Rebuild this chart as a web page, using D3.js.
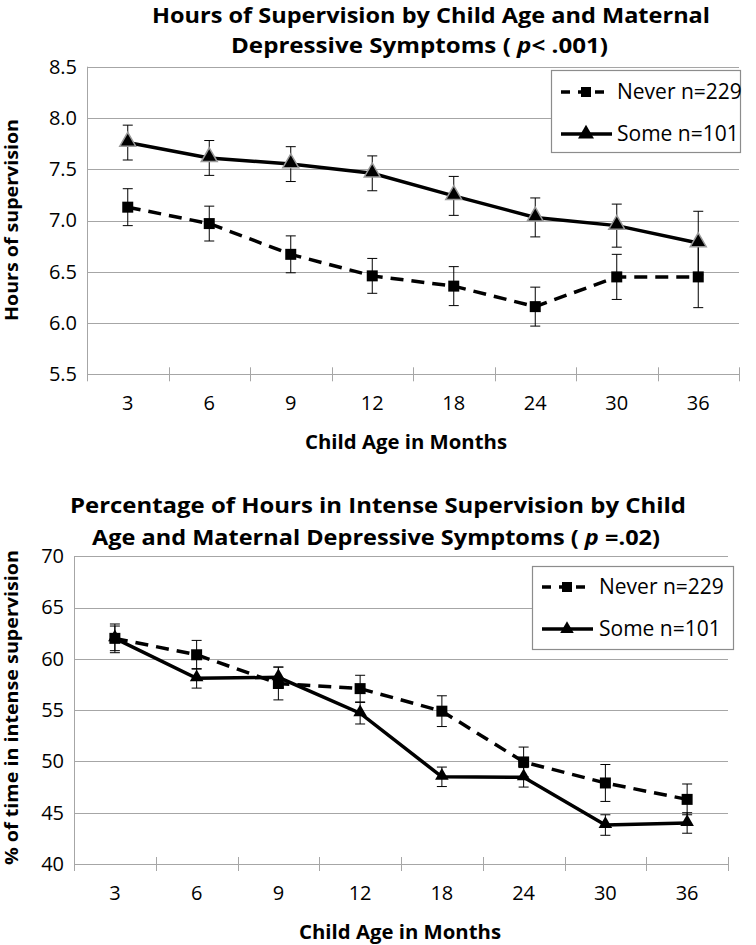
<!DOCTYPE html>
<html>
<head>
<meta charset="utf-8">
<script src="https://cdn.jsdelivr.net/npm/d3@7"></script>
<style>
  body { margin: 0; background: #fff; }
  text { font-family: "Open Sans", "Noto Sans", sans-serif; fill: #000; }
</style>
</head>
<body>
<div id="chart"></div>
<script>
// child age categories (months)
var ages = ["3", "6", "9", "12", "18", "24", "30", "36"];

// hours of supervision
var hoursNever = [7.13, 6.97, 6.67, 6.46, 6.36, 6.16, 6.45, 6.45];
var hoursNeverErr = [0.18, 0.17, 0.18, 0.17, 0.19, 0.19, 0.22, 0.30];
var hoursSome = [7.76, 7.61, 7.55, 7.46, 7.24, 7.03, 6.95, 6.78];
var hoursSomeErr = [0.17, 0.17, 0.17, 0.17, 0.19, 0.19, 0.21, 0.31];
var hoursTicks = [5.5, 6.0, 6.5, 7.0, 7.5, 8.0, 8.5];

// % of time in intense supervision
var pctNever = [62.0, 60.4, 57.6, 57.1, 54.9, 49.95, 47.9, 46.3];
var pctNeverErr = [1.4, 1.4, 1.6, 1.3, 1.5, 1.45, 1.8, 1.5];
var pctSome = [62.0, 58.1, 58.2, 54.7, 48.5, 48.45, 43.8, 44.0];
var pctSomeErr = [1.2, 0.95, 1.0, 1.05, 0.95, 0.95, 1.0, 1.0];
var pctTicks = [40, 45, 50, 55, 60, 65, 70];

var legendNames = ["Never n=229", "Some n=101"];

var svg = d3.select("#chart").append("svg")
    .attr("width", 756)
    .attr("height", 945);

var gridColor = "#a6a6a6";

function drawChart(c) {
    var g = svg.append("g");

    var x = d3.scaleBand().domain(ages).range([c.left, c.right]).padding(0);
    var y = d3.scaleLinear().domain(c.domain).range([c.bottom, c.top]);
    var cx = function(d) { return x(d) + x.bandwidth() / 2; };

    // title lines
    c.title.forEach(function(t) {
        var txt = g.append("text")
            .attr("x", t.x).attr("y", t.y)
            .attr("font-size", 21).attr("font-weight", "bold")
            .attr("textLength", t.w).attr("lengthAdjust", "spacingAndGlyphs");
        t.parts.forEach(function(p) {
            txt.append("tspan").text(p.s).attr("font-style", p.i ? "italic" : null);
        });
    });

    // gridlines
    g.append("g").selectAll("line")
        .data(c.ticks)
        .enter().append("line")
        .attr("x1", c.left).attr("x2", c.right)
        .attr("y1", function(d) { return Math.round(y(d)) + 0.5; })
        .attr("y2", function(d) { return Math.round(y(d)) + 0.5; })
        .attr("stroke", gridColor).attr("stroke-width", 1);

    // y axis line
    g.append("line")
        .attr("x1", c.left + 0.5).attr("x2", c.left + 0.5)
        .attr("y1", y(c.domain[1])).attr("y2", y(c.domain[0]) + 7)
        .attr("stroke", gridColor);

    // y labels via axis
    var yAxis = d3.axisLeft(y).tickValues(c.ticks).tickSize(0).tickPadding(10)
        .tickFormat(c.fmt);
    var ya = g.append("g").attr("transform", "translate(" + c.left + ",0)").call(yAxis);
    ya.select(".domain").remove();
    ya.selectAll("text").attr("font-size", 20).attr("font-family", null).attr("fill", "#000");

    // x ticks at band edges (crossing the axis)
    var edges = ages.map(function(d) { return x(d); }).concat([c.right]);
    g.append("g").selectAll("line")
        .data(edges.slice(1))
        .enter().append("line")
        .attr("x1", function(d) { return Math.round(d) + 0.5; })
        .attr("x2", function(d) { return Math.round(d) + 0.5; })
        .attr("y1", y(c.domain[0]) - 7).attr("y2", y(c.domain[0]) + 7)
        .attr("stroke", gridColor);

    var xAxis = d3.axisBottom(x).tickSize(0).tickPadding(22);
    var xa = g.append("g").attr("transform", "translate(0," + y(c.domain[0]) + ")").call(xAxis);
    xa.select(".domain").remove();
    xa.selectAll("text").attr("font-size", 20).attr("font-family", null).attr("fill", "#000");

    // axis titles
    g.append("text")
        .attr("x", c.xTitle.x).attr("y", c.xTitle.y)
        .attr("font-size", 20).attr("font-weight", "bold")
        .attr("textLength", c.xTitle.w).attr("lengthAdjust", "spacingAndGlyphs")
        .text("Child Age in Months");

    g.append("text")
        .attr("transform", "translate(" + c.yTitle.x + "," + c.yTitle.y + ") rotate(-90)")
        .attr("font-size", 17).attr("font-weight", "bold")
        .attr("textLength", c.yTitle.w).attr("lengthAdjust", "spacingAndGlyphs")
        .text(c.yTitle.text);

    var series = [
        { vals: c.never, err: c.neverErr, dash: "13,8", mark: "square" },
        { vals: c.some, err: c.someErr, dash: null, mark: "triangle" }
    ];

    var line = d3.line()
        .x(function(d, i) { return cx(ages[i]); })
        .y(function(d) { return y(d); });

    series.forEach(function(s) {
        g.append("path")
            .datum(s.vals)
            .attr("d", line)
            .attr("fill", "none")
            .attr("stroke", "#000")
            .attr("stroke-width", 3.5)
            .attr("stroke-dasharray", s.dash);
    });

    series.forEach(function(s) {
        // error bars
        var eb = g.append("g").selectAll("g")
            .data(s.vals)
            .enter().append("g");
        eb.append("line")
            .attr("x1", function(d, i) { return cx(ages[i]); })
            .attr("x2", function(d, i) { return cx(ages[i]); })
            .attr("y1", function(d, i) { return y(d + s.err[i]); })
            .attr("y2", function(d, i) { return y(d - s.err[i]); })
            .attr("stroke", "#000").attr("stroke-width", 1);
        [1, -1].forEach(function(sign) {
            eb.append("line")
                .attr("x1", function(d, i) { return cx(ages[i]) - 5; })
                .attr("x2", function(d, i) { return cx(ages[i]) + 5; })
                .attr("y1", function(d, i) { return y(d + sign * s.err[i]); })
                .attr("y2", function(d, i) { return y(d + sign * s.err[i]); })
                .attr("stroke", "#000").attr("stroke-width", 1);
        });

        // markers
        var sym = s.mark === "square" ? d3.symbolSquare : d3.symbolTriangle;
        var size = s.mark === "square" ? 121 : c.triSize;
        g.append("g").selectAll("path")
            .data(s.vals)
            .enter().append("path")
            .attr("d", d3.symbol().type(sym).size(size))
            .attr("transform", function(d, i) {
                var dy = s.mark === "triangle" ? -1 : 0;
                return "translate(" + cx(ages[i]) + "," + (y(d) + dy) + ")";
            })
            .attr("fill", "#000")
            .attr("stroke", s.mark === "triangle" ? c.triStroke : "none")
            .attr("stroke-width", 1.5);
    });

    // legend
    var L = c.legend;
    var lg = g.append("g");
    lg.append("rect")
        .attr("x", L.x + 0.5).attr("y", L.y + 0.5)
        .attr("width", L.w).attr("height", L.h)
        .attr("fill", "#fff").attr("stroke", "#8c8c8c").attr("stroke-width", 1.2);
    series.forEach(function(s, i) {
        var ly = L.y + L.rows[i];
        lg.append("line")
            .attr("x1", L.x + 10).attr("x2", L.x + 61)
            .attr("y1", ly).attr("y2", ly)
            .attr("stroke", "#000").attr("stroke-width", 3.5)
            .attr("stroke-dasharray", s.dash ? "9,8" : null);
        lg.append("path")
            .attr("d", d3.symbol()
                .type(s.mark === "square" ? d3.symbolSquare : d3.symbolTriangle)
                .size(s.mark === "square" ? 100 : c.triSize))
            .attr("transform", "translate(" + (L.x + 35) + "," + ly + ")")
            .attr("fill", "#000");
        lg.append("text")
            .attr("x", L.x + L.tx).attr("y", ly + 7)
            .attr("font-size", 21)
            .text(legendNames[i]);
    });
}

drawChart({
    left: 87, right: 739, top: 66.7, bottom: 374.3,
    domain: [5.5, 8.5], ticks: hoursTicks, fmt: d3.format(".1f"),
    never: hoursNever, neverErr: hoursNeverErr,
    some: hoursSome, someErr: hoursSomeErr,
    triSize: 110, triStroke: "#9a9a9a",
    title: [
        { x: 152, y: 23, w: 558, parts: [{ s: "Hours of Supervision by Child Age and Maternal" }] },
        { x: 231, y: 53, w: 377, parts: [{ s: "Depressive Symptoms ( " }, { s: "p", i: true }, { s: "< .001)" }] }
    ],
    xTitle: { x: 305, y: 449, w: 202 },
    yTitle: { x: 18, y: 321, w: 202, text: "Hours of supervision" },
    legend: { x: 551, y: 70, w: 189, h: 82, rows: [22, 64], tx: 66 }
});

drawChart({
    left: 74, right: 728, top: 556.3, bottom: 864,
    domain: [40, 70], ticks: pctTicks, fmt: d3.format("d"),
    never: pctNever, neverErr: pctNeverErr,
    some: pctSome, someErr: pctSomeErr,
    triSize: 80, triStroke: "none",
    title: [
        { x: 70, y: 513, w: 616, parts: [{ s: "Percentage of Hours in Intense Supervision by Child" }] },
        { x: 92, y: 545, w: 568, parts: [{ s: "Age and Maternal Depressive Symptoms ( " }, { s: "p", i: true }, { s: " =.02)" }] }
    ],
    xTitle: { x: 299, y: 939, w: 202 },
    yTitle: { x: 18, y: 865, w: 315, text: "% of time in intense supervision" },
    legend: { x: 532, y: 566, w: 201, h: 83, rows: [21, 63], tx: 67 }
});
</script>
</body>
</html>
